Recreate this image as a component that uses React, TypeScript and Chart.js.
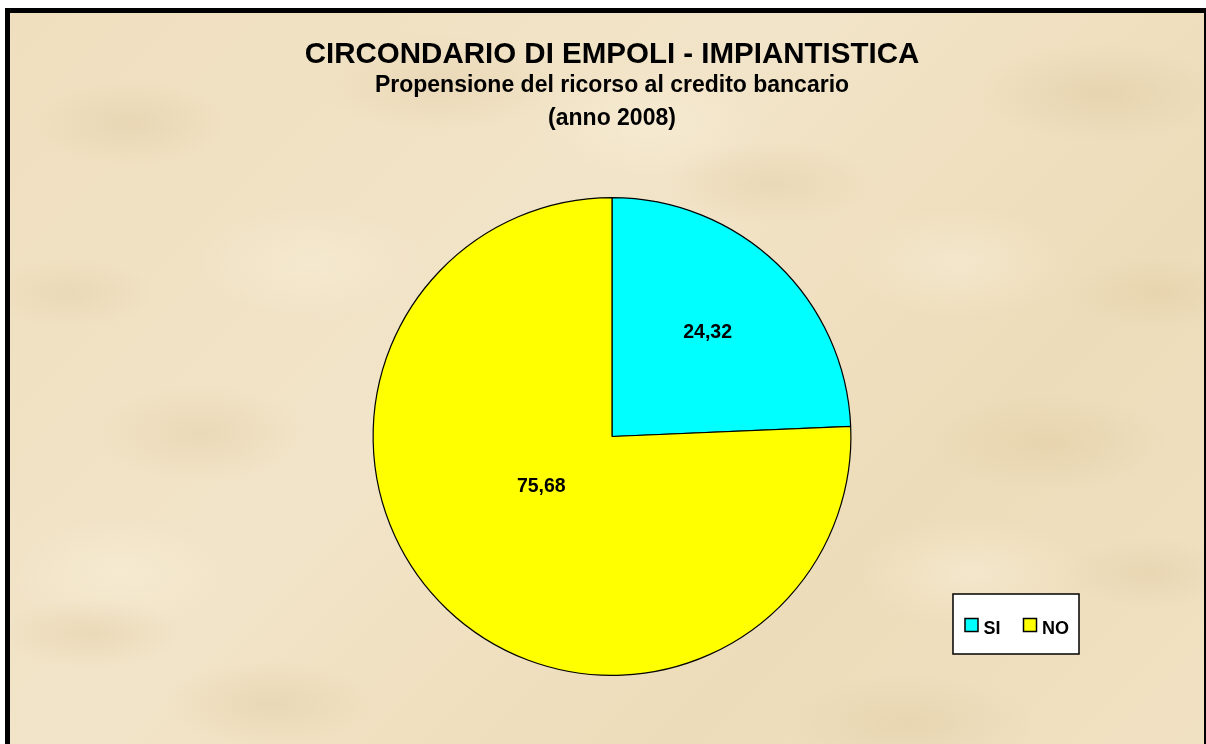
import React, { useEffect, useRef } from "react";
import { Chart, registerables } from "chart.js";

Chart.register(...registerables);

const titleText = "CIRCONDARIO DI EMPOLI - IMPIANTISTICA";
const subtitleLines = ["Propensione del ricorso al credito bancario", "(anno 2008)"];
const categories = ["SI", "NO"];
const values = [24.32, 75.68];
const valueLabels = ["24,32", "75,68"];
const sliceColors = ["#00FFFF", "#FFFF00"];

const FONT = "'Liberation Sans', Arial, Helvetica, sans-serif";

const labelPlugin = {
  id: "sliceLabels",
  afterDatasetsDraw(chart: any, _args: any, opts: any) {
    const ctx = chart.ctx;
    const meta = chart.getDatasetMeta(0);
    ctx.save();
    ctx.font = `bold ${opts.size}px ${FONT}`;
    ctx.fillStyle = "#000";
    ctx.textAlign = "center";
    ctx.textBaseline = "middle";
    meta.data.forEach((arc: any, i: number) => {
      const p = arc.getProps(["x", "y", "startAngle", "endAngle", "outerRadius"], true);
      const pos = opts.positions[i];
      const a = (p.startAngle + p.endAngle) / 2 + (pos.dAngle * Math.PI) / 180;
      const r = p.outerRadius * pos.frac;
      ctx.fillText(valueLabels[i], p.x + Math.cos(a) * r, p.y + Math.sin(a) * r + 1);
    });
    ctx.restore();
  },
};

const legendPlugin = {
  id: "boxLegend",
  afterDraw(chart: any, _args: any, opts: any) {
    const ctx = chart.ctx;
    const labels: string[] = chart.data.labels;
    const colors: string[] = chart.data.datasets[0].backgroundColor;
    ctx.save();
    ctx.font = `bold ${opts.size}px ${FONT}`;
    const sq = opts.square;
    const widths = labels.map((l) => ctx.measureText(l).width);
    let contentW = opts.padLeft + opts.padRight;
    widths.forEach((w, i) => {
      contentW += sq + opts.textGap + w + (i < widths.length - 1 ? opts.itemGap : 0);
    });
    const x0 = opts.right - contentW;
    const y0 = opts.top;
    ctx.fillStyle = "#FFFFFF";
    ctx.fillRect(x0, y0, contentW, opts.height);
    ctx.strokeStyle = "#000";
    ctx.lineWidth = 1.5;
    ctx.strokeRect(x0, y0, contentW, opts.height);
    let x = x0 + opts.padLeft;
    const cy = y0 + opts.height / 2;
    labels.forEach((l, i) => {
      ctx.fillStyle = colors[i];
      ctx.fillRect(x, cy + 1 - sq / 2, sq, sq);
      ctx.lineWidth = 1.5;
      ctx.strokeStyle = "#000";
      ctx.strokeRect(x, cy + 1 - sq / 2, sq, sq);
      x += sq + opts.textGap;
      ctx.fillStyle = "#000";
      ctx.textBaseline = "alphabetic";
      ctx.textAlign = "left";
      ctx.fillText(l, x, cy + 9.5);
      x += widths[i] + opts.itemGap;
    });
    ctx.restore();
  },
};

const spot = (w: number, h: number, x: number, y: number, c: string, a: number) =>
  `radial-gradient(ellipse ${w}px ${h}px at ${x}px ${y}px, rgba(${c},${a}), rgba(${c},0) 70%)`;

const DARK = "205,178,130";
const LIGHT = "250,242,222";

const parchment = [
  spot(140, 60, 120, 110, DARK, 0.22),
  spot(170, 70, 430, 70, DARK, 0.2),
  spot(150, 60, 760, 170, DARK, 0.2),
  spot(180, 70, 1090, 80, DARK, 0.24),
  spot(150, 70, 190, 420, DARK, 0.2),
  spot(170, 70, 1040, 430, DARK, 0.2),
  spot(150, 60, 260, 690, DARK, 0.22),
  spot(180, 70, 900, 710, DARK, 0.2),
  spot(120, 50, 60, 280, DARK, 0.18),
  spot(130, 50, 1150, 280, DARK, 0.18),
  spot(120, 50, 1140, 560, DARK, 0.2),
  spot(130, 50, 80, 620, DARK, 0.2),
  spot(160, 80, 640, 110, LIGHT, 0.45),
  spot(160, 80, 960, 560, LIGHT, 0.45),
  spot(160, 80, 110, 560, LIGHT, 0.45),
  spot(160, 80, 300, 250, LIGHT, 0.4),
  spot(160, 80, 950, 250, LIGHT, 0.4),
  "linear-gradient(135deg, #EFDFBF 0%, #F2E4C8 40%, #EDDCB9 70%, #F1E2C4 100%)",
].join(",");

export default function App() {
  const canvasRef = useRef<HTMLCanvasElement | null>(null);

  useEffect(() => {
    if (!canvasRef.current) return;
    const chart = new Chart(canvasRef.current, {
      type: "pie",
      data: {
        labels: categories,
        datasets: [
          {
            data: values,
            backgroundColor: sliceColors,
            borderColor: "#000000",
            borderWidth: 1.2,
            borderAlign: "center",
          },
        ],
      },
      plugins: [labelPlugin, legendPlugin],
      options: {
        responsive: false,
        animation: false,
        events: [],
        layout: { padding: { left: 18, right: 0, top: 0, bottom: 68 } },
        plugins: {
          legend: { display: false },
          tooltip: { enabled: false },
          title: {
            display: true,
            text: titleText,
            color: "#000",
            font: { family: FONT, size: 29.5, weight: "bold", lineHeight: 1.0 },
            padding: { top: 40, bottom: 0 },
          },
          subtitle: {
            display: true,
            text: subtitleLines,
            color: "#000",
            font: { family: FONT, size: 23, weight: "bold", lineHeight: 1.435 },
            padding: { top: 0, bottom: 61.5 },
          },
          sliceLabels: {
            size: 19.5,
            positions: [
              { dAngle: -1.4, frac: 0.594 },
              { dAngle: 11.5, frac: 0.36 },
            ],
          },
          boxLegend: {
            size: 18,
            square: 13,
            textGap: 5.5,
            itemGap: 23,
            padLeft: 12,
            padRight: 10,
            right: 1079,
            top: 594,
            height: 60,
          },
        } as any,
      },
    });
    return () => chart.destroy();
  }, []);

  return (
    <div
      style={{
        position: "fixed",
        left: 0,
        top: 0,
        width: 1206,
        height: 744,
        overflow: "hidden",
        background: "#FFFFFF",
      }}
    >
      <div
        style={{
          position: "absolute",
          left: 5,
          top: 8,
          width: 1204,
          height: 800,
          boxSizing: "border-box",
          border: "5px solid #000",
          background: parchment,
        }}
      />
      <canvas
        ref={canvasRef}
        width={1206}
        height={744}
        style={{ position: "absolute", left: 0, top: 0, width: 1206, height: 744 }}
      />
    </div>
  );
}
